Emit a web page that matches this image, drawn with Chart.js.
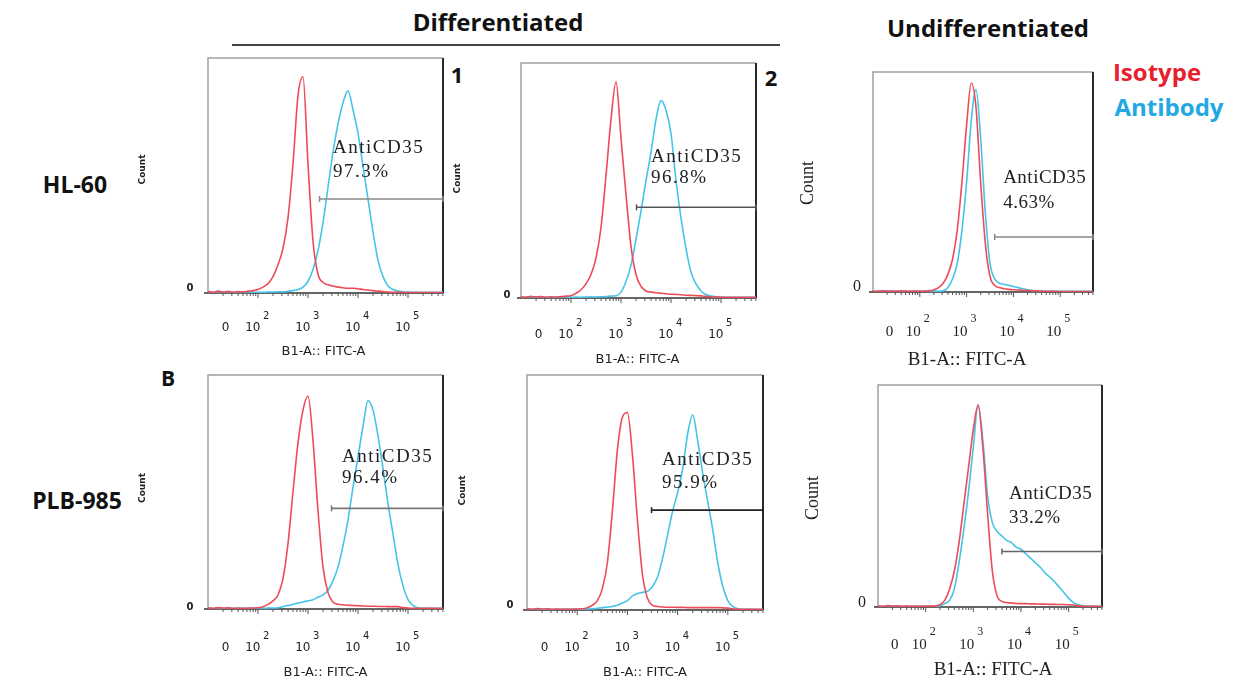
<!DOCTYPE html>
<html>
<head>
<meta charset="utf-8">
<title>CD35 expression - flow cytometry</title>
<script src="https://cdn.jsdelivr.net/npm/chart.js@4.4.0/dist/chart.umd.min.js"></script>
<style>
  html, body { margin: 0; padding: 0; background: #fff; }
  #fig { position: relative; width: 1251px; height: 687px; overflow: hidden; font-family: 'Open Sans', sans-serif; }
  .lbl { position: absolute; font-weight: 700; white-space: nowrap; line-height: 1; transform: translate(-50%, -50%); color: #111; }
  #rule { position: absolute; left: 232px; top: 44px; width: 548px; height: 2px; background: #444; }
  #fig canvas { position: absolute; }
</style>
</head>
<body>
<div id="fig">
  <div class="lbl" style="left:498px; top:22px; font-size:24px;">Differentiated</div>
  <div id="rule"></div>
  <div class="lbl" style="left:988px; top:28px; font-size:24px;">Undifferentiated</div>
  <div class="lbl" style="left:1157px; top:72px; font-size:24px; color:#e8202e;">Isotype</div>
  <div class="lbl" style="left:1169px; top:107px; font-size:24px; color:#22a8e2;">Antibody</div>
  <div class="lbl" style="left:75px; top:184px; font-size:23px;">HL-60</div>
  <div class="lbl" style="left:77px; top:500px; font-size:23px;">PLB-985</div>
  <div class="lbl" style="left:168px; top:378px; font-size:21px;">B</div>
  <div class="lbl" style="left:457px; top:74px; font-size:22px;">1</div>
  <div class="lbl" style="left:771px; top:77px; font-size:22px;">2</div>
</div>
<script>
// ---- data (x = log decade of B1-A :: FITC-A, y = % of panel max count) ----
const gridX = [1.0, 1.1, 1.2, 1.3, 1.4, 1.5, 1.6, 1.7, 1.8, 1.9,
               2.0, 2.1, 2.2, 2.3, 2.4, 2.5, 2.6, 2.7, 2.8, 2.9,
               3.0, 3.1, 3.2, 3.3, 3.4, 3.5, 3.6, 3.7, 3.8, 3.9,
               4.0, 4.1, 4.2, 4.3, 4.4, 4.5, 4.6, 4.7, 4.8, 4.9,
               5.0, 5.1, 5.2, 5.3, 5.4, 5.5, 5.6, 5.7];

const tickValues = [1.35, 2, 3, 4, 5];
const tickBase = ['0', '10', '10', '10', '10'];
const tickExp = ['', '2', '3', '4', '5'];

// HL-60, differentiated 1
const hl60Diff1Iso = [0.6, 0.3, 0.8, 0.4, 0.7, 0.3, 0.6, 0.5, 0.8, 1.0,
  1.5, 2.5, 4, 7, 12, 19, 32, 55, 84, 92,
  55, 22, 8, 4.5, 3.5, 3, 2.5, 2.2, 2, 2,
  1.8, 1.5, 1.3, 1.0, 0.8, 0.6, 0.4, 0.3, 0.3, 0.2,
  0.2, 0.2, 0.2, 0.2, 0.2, 0.2, 0.2, 0.2];
const hl60Diff1Ab = [0.5, 0.3, 0.6, 0.4, 0.5, 0.3, 0.4, 0.3, 0.4, 0.3,
  0.3, 0.3, 0.4, 0.4, 0.5, 0.5, 0.7, 1, 1.5, 2.5,
  5, 10, 18, 30, 45, 60, 72, 81, 86, 78,
  68, 54, 40, 26, 14, 7, 3, 1.5, 0.8, 0.5,
  0.4, 0.3, 0.3, 0.3, 0.3, 0.3, 0.3, 0.3];

// HL-60, differentiated 2
const hl60Diff2Iso = [0.5, 0.3, 0.7, 0.4, 0.6, 0.3, 0.5, 0.4, 0.6, 0.8,
  1, 2, 3.5, 6, 10, 17, 30, 52, 76, 92,
  68, 44, 22, 10, 5, 3, 2.5, 2.2, 2, 1.8,
  1.6, 1.5, 1.4, 1.2, 1.1, 1, 0.9, 0.7, 0.5, 0.4,
  0.3, 0.3, 0.3, 0.3, 0.3, 0.3, 0.3, 0.3];
const hl60Diff2Ab = [0.4, 0.3, 0.5, 0.4, 0.6, 0.3, 0.4, 0.3, 0.5, 0.4,
  0.3, 0.4, 0.3, 0.4, 0.5, 0.4, 0.5, 0.6, 0.8, 1,
  2.5, 7, 14, 25, 37, 50, 62, 76, 84, 80,
  70, 50, 34, 21, 11, 6, 3, 1.5, 0.8, 0.5,
  0.4, 0.3, 0.3, 0.3, 0.3, 0.3, 0.3, 0.3];

// HL-60, undifferentiated
const hl60UndIso = [0.4, 0.3, 0.5, 0.3, 0.4, 0.3, 0.5, 0.4, 0.3, 0.4,
  0.3, 0.4, 0.5, 1, 2, 4, 8, 15, 28, 50,
  76, 95, 84, 50, 22, 7, 3, 2, 1.5, 1.2,
  1, 0.9, 0.8, 0.7, 0.6, 0.5, 0.4, 0.3, 0.3, 0.3,
  0.2, 0.2, 0.2, 0.2, 0.2, 0.2, 0.2, 0.2];
const hl60UndAb = [0.3, 0.4, 0.3, 0.5, 0.3, 0.4, 0.3, 0.4, 0.3, 0.3,
  0.4, 0.3, 0.3, 0.4, 0.4, 0.5, 2, 6, 13, 28,
  50, 78, 92, 70, 36, 13, 6, 4, 3.5, 3,
  2.5, 2, 1.5, 1, 0.7, 0.5, 0.4, 0.3, 0.4, 0.3,
  0.3, 0.3, 0.3, 0.3, 0.3, 0.3, 0.3, 0.3];

// PLB-985, differentiated 1
const plbDiff1Iso = [0.5, 0.3, 0.6, 0.4, 0.5, 0.3, 0.4, 0.3, 0.4, 0.4,
  0.5, 1, 2, 3.5, 6, 13, 28, 50, 71, 85,
  91, 72, 42, 18, 7, 3, 2, 1.8, 1.6, 1.5,
  1.4, 1.3, 1.2, 1.2, 1.1, 1.1, 1, 1, 1, 0.6,
  0.4, 0.3, 0.3, 0.3, 0.3, 0.3, 0.3, 0.3];
const plbDiff1Ab = [0.4, 0.3, 0.5, 0.3, 0.4, 0.3, 0.4, 0.3, 0.3, 0.4,
  0.3, 0.3, 0.4, 0.4, 0.5, 1, 1.5, 2, 2.5, 3,
  3.5, 4, 5, 6, 8, 12, 18, 27, 38, 52,
  65, 78, 89, 85, 74, 60, 45, 32, 19, 10,
  4, 1.5, 0.5, 0.3, 0.4, 0.3, 0.3, 0.3];

// PLB-985, differentiated 2
const plbDiff2Iso = [0.5, 0.3, 0.6, 0.4, 0.5, 0.3, 0.4, 0.3, 0.4, 0.3,
  0.4, 0.5, 1, 2, 4, 9, 20, 42, 68, 82,
  84, 66, 38, 15, 5, 2, 1.5, 1.3, 1.2, 1.2,
  1.1, 1.1, 1, 1, 1, 1, 1, 1, 1, 0.9,
  0.8, 0.5, 0.3, 0.3, 0.3, 0.3, 0.3, 0.3];
const plbDiff2Ab = [0.4, 0.3, 0.5, 0.3, 0.4, 0.3, 0.4, 0.3, 0.3, 0.4,
  0.3, 0.3, 0.4, 0.5, 0.7, 1, 1.2, 1.5, 2, 3,
  4, 6, 7, 7.5, 8, 10, 14, 22, 32, 42,
  50, 60, 75, 83, 72, 58, 46, 34, 20, 10,
  4, 1.5, 0.5, 0.3, 0.4, 0.3, 0.3, 0.3];

// PLB-985, undifferentiated
const plbUndIso = [0.5, 0.3, 0.6, 0.4, 0.5, 0.3, 0.4, 0.3, 0.4, 0.3,
  0.4, 0.4, 0.5, 1, 3, 8, 16, 29, 46, 63,
  80, 91, 72, 42, 16, 5, 2.5, 2, 1.8, 1.6,
  1.5, 1.5, 1.4, 1.4, 1.3, 1.3, 1.2, 1.2, 1.1, 1.1,
  1, 0.9, 0.5, 0.3, 0.3, 0.3, 0.3, 0.3];
const plbUndAb = [0.4, 0.3, 0.5, 0.3, 0.4, 0.3, 0.4, 0.3, 0.3, 0.4,
  0.3, 0.3, 0.4, 0.5, 1.5, 3, 8, 20, 35, 52,
  72, 91, 75, 50, 38, 34, 32, 30, 29, 27,
  26, 24, 22, 20, 18, 15.5, 13.5, 11.5, 9, 6.5,
  4, 2, 1, 0.5, 0.3, 0.4, 0.3, 0.3];

// AntiCD35 gates: start (decade), height (% of max) and positive fraction
const gateStart = [3.23, 3.31, 3.6, 3.47, 3.48, 3.6];
const gateLevel = [40, 38.6, 25, 43, 42.5, 25];
const gatePercent = ['97.3%', '96.8%', '4.63%', '96.4%', '95.9%', '33.2%'];

// ---- styling / layout ----
const RED = '#ee4b58';
const BLUE = '#45c4e8';
const X_MIN = 1.0, X_MAX = 5.7;

const sansText = {
  tick: '12px "DejaVu Sans"', sup: '10px "DejaVu Sans"', supRise: 12, baseShift: 2.5, supShift: 5,
  title: '13px "DejaVu Sans"', count: 'bold 9px "DejaVu Sans"', zero: 'bold 10px "DejaVu Sans"'
};
const serifText = {
  tick: '15px "Liberation Serif"', sup: '12px "Liberation Serif"', supRise: 13, baseShift: 1, supShift: 4,
  title: '19px "Liberation Serif"', count: '18px "Liberation Serif"', zero: '16px "Liberation Serif"'
};

// box = [left, top, right, bottom] of the plotting frame on the page
const panels = [
  { iso: hl60Diff1Iso, ab: hl60Diff1Ab, box: [208, 58, 443, 293], text: sansText, gateColor: '#8a8a8a',
    labelAt: [3.5, 61.7], lineGap: 24, spacing: '1.5px', tickDy: 35, titleDy: 59, titleDx: -2, countDx: -65, countDy: -6, zeroDx: -18, zeroDy: -5 },
  { iso: hl60Diff2Iso, ab: hl60Diff2Ab, box: [521, 63, 756, 298], text: sansText, gateColor: '#555555',
    labelAt: [3.6, 60], lineGap: 21, spacing: '1.5px', tickDy: 37, titleDy: 62, titleDx: -1, countDx: -63, countDy: -2, zeroDx: -14, zeroDy: -3 },
  { iso: hl60UndIso, ab: hl60UndAb, box: [873, 72, 1093, 292], text: serifText, gateColor: '#888888',
    labelAt: [3.78, 52], lineGap: 25, spacing: '0.5px', tickDy: 40, titleDy: 68, titleDx: -16, countDx: -65, countDy: 1, zeroDx: -16, zeroDy: -5 },
  { iso: plbDiff1Iso, ab: plbDiff1Ab, box: [208, 375, 443, 609], text: sansText, gateColor: '#777777',
    labelAt: [3.68, 65], lineGap: 21, spacing: '1.5px', tickDy: 39, titleDy: 64, titleDx: 0, countDx: -65, countDy: -4, zeroDx: -18, zeroDy: -2 },
  { iso: plbDiff2Iso, ab: plbDiff2Ab, box: [527, 375, 763, 610], text: sansText, gateColor: '#222222',
    labelAt: [3.69, 64], lineGap: 23, spacing: '1.5px', tickDy: 38, titleDy: 63, titleDx: 0, countDx: -64, countDy: -2, zeroDx: -17, zeroDy: -5 },
  { iso: plbUndIso, ab: plbUndAb, box: [878, 385, 1102, 607], text: serifText, gateColor: '#666666',
    labelAt: [3.75, 51], lineGap: 24, spacing: '0.5px', tickDy: 38, titleDy: 63, titleDx: 3, countDx: -65, countDy: 2, zeroDx: -16, zeroDy: -4 }
];

const PAD = { left: 100, top: 30, right: 20, bottom: 85 };

/**
 * Frame, log ticks and all text of one histogram panel
 */
const flowPlot = {
  id: 'flowPlot',
  beforeDatasetsDraw(chart, args, o) {
    const { ctx, chartArea: a, scales: { x } } = chart;
    ctx.save();
    ctx.lineWidth = 1.5;
    ctx.strokeStyle = '#a0a0a0';
    ctx.beginPath();
    ctx.moveTo(a.left, a.bottom);
    ctx.lineTo(a.left, a.top);
    ctx.lineTo(a.right, a.top);
    ctx.stroke();

    ctx.strokeStyle = '#2a2a2a';
    ctx.lineWidth = 2;
    ctx.beginPath();
    ctx.moveTo(a.right, a.top);
    ctx.lineTo(a.right, a.bottom);
    ctx.stroke();

    ctx.strokeStyle = '#333';
    ctx.lineWidth = 1.5;
    ctx.beginPath();
    ctx.moveTo(a.left - 4, a.bottom);
    ctx.lineTo(a.right, a.bottom);
    ctx.stroke();

    // log minor ticks along the bottom axis
    ctx.lineWidth = 1;
    ctx.strokeStyle = '#555';
    ctx.beginPath();
    for (let d = 1; d <= 5; d++) {
      for (let k = 1; k <= 9; k++) {
        const v = d + Math.log10(k);
        if (v <= x.min || v >= x.max) continue;
        const px = x.getPixelForValue(v);
        ctx.moveTo(px, a.bottom);
        ctx.lineTo(px, a.bottom + (k === 1 ? 5 : 3));
      }
    }
    ctx.stroke();
    ctx.restore();
  },
  afterDatasetsDraw(chart, args, o) {
    const { ctx, chartArea: a, scales: { x, y } } = chart;
    const t = o.text;
    ctx.save();
    ctx.fillStyle = '#222';
    ctx.textBaseline = 'middle';

    // x tick labels: 0, 10^2 ... 10^5
    const ty = a.bottom + o.tickDy;
    tickValues.forEach((v, i) => {
      const px = x.getPixelForValue(v);
      ctx.font = t.tick;
      if (!tickExp[i]) {
        ctx.textAlign = 'center';
        ctx.fillText(tickBase[i], px, ty);
        return;
      }
      ctx.textAlign = 'right';
      ctx.fillText(tickBase[i], px + t.baseShift, ty);
      ctx.font = t.sup;
      ctx.textAlign = 'left';
      ctx.fillText(tickExp[i], px + t.supShift, ty - t.supRise);
    });

    // axis titles
    ctx.font = t.title;
    ctx.textAlign = 'center';
    ctx.fillText('B1-A:: FITC-A', (a.left + a.right) / 2 + o.titleDx, a.bottom + o.titleDy);

    ctx.save();
    ctx.translate(a.left + o.countDx, (a.top + a.bottom) / 2 + o.countDy);
    ctx.rotate(-Math.PI / 2);
    ctx.font = t.count;
    ctx.fillText('Count', 0, 0);
    ctx.restore();

    ctx.font = t.zero;
    ctx.fillText('0', a.left + o.zeroDx, a.bottom + o.zeroDy);

    // gate annotation
    ctx.font = '19px "Liberation Serif"';
    ctx.textAlign = 'left';
    ctx.letterSpacing = o.spacing;
    const lx = x.getPixelForValue(o.labelAt[0]);
    const ly = y.getPixelForValue(o.labelAt[1]);
    ctx.fillText('AntiCD35', lx, ly);
    ctx.fillText(o.percent, lx, ly + o.lineGap);
    ctx.restore();
  }
};

function toPoints(values) {
  return gridX.map((v, i) => ({ x: v, y: values[i] }));
}

panels.forEach((p, i) => {
  const [L, T, R, B] = p.box;
  const canvas = document.createElement('canvas');
  canvas.width = R - L + PAD.left + PAD.right;
  canvas.height = B - T + PAD.top + PAD.bottom;
  canvas.style.left = (L - PAD.left) + 'px';
  canvas.style.top = (T - PAD.top) + 'px';
  document.getElementById('fig').appendChild(canvas);

  new Chart(canvas.getContext('2d'), {
    type: 'line',
    data: {
      datasets: [
        {
          label: 'AntiCD35 gate',
          data: [{ x: gateStart[i], y: gateLevel[i] }, { x: X_MAX, y: gateLevel[i] }],
          borderColor: p.gateColor,
          borderWidth: 1.6,
          pointStyle: 'line',
          rotation: 90,
          pointRadius: 3,
          pointBorderColor: p.gateColor,
          pointBorderWidth: 1.5,
          clip: false
        },
        {
          label: 'Isotype',
          data: toPoints(p.iso),
          borderColor: RED,
          borderWidth: 1.6,
          pointRadius: 0,
          cubicInterpolationMode: 'monotone'
        },
        {
          label: 'Antibody',
          data: toPoints(p.ab),
          borderColor: BLUE,
          borderWidth: 1.6,
          pointRadius: 0,
          cubicInterpolationMode: 'monotone'
        }
      ]
    },
    options: {
      responsive: false,
      animation: false,
      events: [],
      layout: { padding: PAD },
      plugins: {
        legend: { display: false },
        tooltip: { enabled: false },
        flowPlot: Object.assign({ percent: gatePercent[i] }, p)
      },
      scales: {
        x: { type: 'linear', min: X_MIN, max: X_MAX, display: false },
        y: { min: 0, max: 100, display: false }
      }
    },
    plugins: [flowPlot]
  });
});
</script>
</body>
</html>
